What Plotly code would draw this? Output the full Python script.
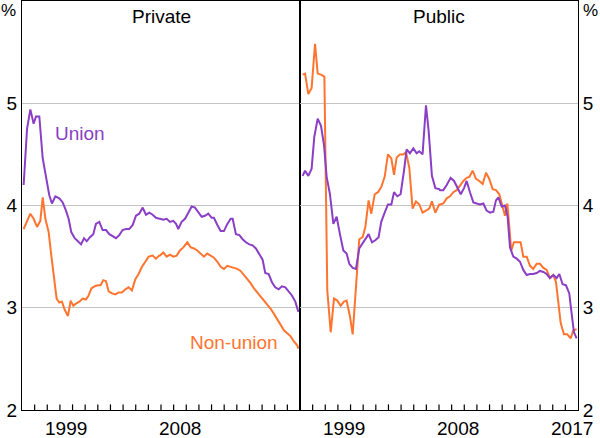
import plotly.graph_objects as go
from plotly.subplots import make_subplots

# ---------------- data ----------------
priv_union_years = [1996.13,1996.40,1996.66,1996.92,1997.11,1997.37,1997.64,1997.90,1998.16,1998.37,
                    1998.64,1998.95,1999.22,1999.48,1999.69,1999.90,2000.17,2000.43,2000.67,2000.91,
                    2001.12,2001.38,2001.64,2001.85,2002.12,2002.38,2002.65,2002.91,2003.17,2003.44,
                    2003.70,2003.96,2004.23,2004.49,2004.76,2005.02,2005.28,2005.55,2005.81,2006.07,
                    2006.34,2006.60,2006.87,
                    2006.92,2007.18,2007.45,2007.71,2007.97,2008.19,2008.37,2008.63,2008.90,2009.16,
                    2009.43,2009.69,2009.95,2010.22,2010.48,2010.74,2011.01,2011.19,2011.46,2011.72,
                    2011.98,2012.25,2012.51,2012.67,2012.93,2013.20,2013.46,2013.72,2013.99,2014.25,
                    2014.51,2014.78,2015.04,2015.25,2015.52,2015.78,2016.04,2016.31,2016.57,2016.84,
                    2017.10,2017.36,2017.63,2017.80,2017.87]
priv_union = [4.20,4.75,4.94,4.80,4.87,4.87,4.46,4.28,4.10,4.02,
              4.09,4.07,4.03,3.95,3.87,3.74,3.68,3.65,3.62,3.68,
              3.65,3.69,3.72,3.82,3.84,3.76,3.76,3.72,3.70,3.68,
              3.71,3.76,3.77,3.77,3.81,3.90,3.92,3.98,3.91,3.93,
              3.91,3.88,3.87,
              3.87,3.86,3.87,3.84,3.85,3.82,3.77,3.84,3.87,3.93,
              3.99,3.98,3.93,3.89,3.90,3.92,3.88,3.88,3.81,3.75,
              3.75,3.82,3.87,3.87,3.72,3.71,3.67,3.64,3.62,3.61,
              3.58,3.53,3.47,3.34,3.33,3.25,3.20,3.18,3.21,3.20,
              3.16,3.12,3.06,2.97,2.96]

priv_nonunion_years = [1996.13,1996.40,1996.66,1996.92,1997.19,1997.45,1997.64,1997.85,1998.11,1998.32,
                       1998.53,1998.74,1998.95,1999.16,1999.38,1999.64,1999.85,2000.06,2000.27,2000.54,
                       2000.80,2001.06,2001.27,2001.49,2001.75,2002.01,2002.22,2002.43,2002.65,2002.86,
                       2003.12,2003.38,2003.65,2003.91,2004.18,2004.44,2004.70,2004.97,2005.23,2005.49,
                       2005.76,2006.02,2006.34,2006.60,2006.87,
                       2006.92,2007.18,2007.45,2007.71,2007.97,2008.24,2008.50,2008.77,2009.08,2009.35,
                       2009.61,2009.87,2010.14,2010.40,2010.66,2010.93,2011.19,2011.46,2011.72,2011.98,
                       2012.25,2012.51,2012.77,2013.04,2013.30,2013.57,2013.83,2014.09,2014.36,2014.62,
                       2014.88,2015.15,2015.41,2015.68,2015.94,2016.20,2016.47,2016.73,2016.99,2017.26,
                       2017.52,2017.79,2017.87]
priv_nonunion = [3.77,3.84,3.92,3.87,3.79,3.85,4.08,3.87,3.74,3.51,
                 3.28,3.09,3.05,3.06,2.98,2.92,3.07,3.02,3.04,3.06,
                 3.09,3.08,3.12,3.19,3.21,3.22,3.22,3.27,3.26,3.16,
                 3.14,3.13,3.15,3.15,3.18,3.20,3.17,3.28,3.33,3.40,
                 3.45,3.50,3.51,3.48,3.51,
                 3.51,3.54,3.50,3.52,3.50,3.51,3.56,3.59,3.64,3.59,
                 3.58,3.56,3.53,3.50,3.53,3.51,3.49,3.45,3.40,3.38,
                 3.41,3.40,3.39,3.38,3.36,3.32,3.28,3.24,3.19,3.15,
                 3.11,3.07,3.04,2.99,2.94,2.89,2.83,2.78,2.75,2.72,
                 2.67,2.63,2.60]

pub_union_years = [1996.21,1996.40,1996.66,1996.92,1997.13,1997.40,1997.66,1997.90,1998.11,1998.37,
                   1998.64,1998.90,1999.16,1999.43,1999.69,1999.90,2000.17,2000.43,2000.69,2000.96,
                   2001.22,2001.43,2001.70,2001.96,2002.22,2002.43,2002.70,2002.96,2003.23,2003.44,
                   2003.70,2003.96,2004.23,2004.44,2004.70,2004.97,2005.23,2005.44,2005.70,2005.97,
                   2006.18,2006.44,2006.71,2007.02,
                   2007.08,2007.34,2007.61,2007.92,2008.19,2008.45,2008.72,2008.98,2009.19,2009.45,
                   2009.72,2009.98,2010.24,2010.51,2010.77,2011.04,2011.30,2011.51,2011.70,2011.96,
                   2012.22,2012.43,2012.62,2012.88,2013.15,2013.41,2013.67,2013.94,2014.20,2014.46,
                   2014.73,2014.99,2015.26,2015.52,2015.78,2016.05,2016.31,2016.52,2016.78,2017.05,
                   2017.31,2017.50,2017.68,2017.89]
pub_union = [4.29,4.34,4.29,4.36,4.67,4.85,4.78,4.59,4.28,4.11,
             3.82,3.89,3.72,3.56,3.53,3.43,3.39,3.38,3.58,3.63,
             3.68,3.72,3.64,3.66,3.69,3.84,3.93,4.01,4.01,4.13,
             4.09,4.11,4.34,4.55,4.51,4.56,4.51,4.53,4.50,4.98,
             4.73,4.29,4.17,4.16,
             4.15,4.15,4.20,4.27,4.24,4.18,4.11,4.17,4.24,4.13,
             4.03,4.02,4.01,4.02,3.95,3.93,3.94,4.05,4.08,3.99,
             4.00,3.89,3.59,3.50,3.48,3.45,3.37,3.32,3.33,3.33,
             3.34,3.36,3.35,3.33,3.29,3.32,3.29,3.33,3.23,3.22,
             3.14,2.94,2.76,2.70]

pub_nonunion_years = [1996.21,1996.40,1996.66,1996.92,1997.19,1997.40,1997.66,1997.93,1998.16,1998.43,
                      1998.69,1998.95,1999.22,1999.48,1999.69,1999.96,2000.17,2000.69,2000.96,2001.17,
                      2001.43,2001.64,2001.91,2002.17,2002.43,2002.70,2002.96,2003.23,2003.44,2003.65,
                      2003.91,2004.18,2004.39,2004.65,2004.91,2005.18,2005.44,2005.70,2005.97,2006.23,
                      2006.44,2006.71,2007.02,
                      2007.08,2007.34,2007.61,2007.87,2008.13,2008.40,2008.66,2008.93,2009.19,2009.40,
                      2009.66,2009.93,2010.19,2010.46,2010.72,2010.98,2011.25,2011.51,2011.77,2012.04,
                      2012.22,2012.41,2012.57,2012.72,2012.93,2013.20,2013.46,2013.67,2013.94,2014.20,
                      2014.46,2014.73,2014.99,2015.26,2015.52,2015.78,2016.05,2016.26,2016.44,2016.63,
                      2016.89,2017.15,2017.42,2017.63,2017.89]
pub_nonunion = [5.28,5.29,5.09,5.15,5.58,5.29,5.28,5.26,3.17,2.76,
                3.09,3.07,3.02,3.06,3.07,2.91,2.74,3.67,3.69,3.79,
                4.05,3.92,4.11,4.13,4.18,4.28,4.50,4.46,4.30,4.47,
                4.50,4.50,4.52,4.37,3.97,4.04,4.01,3.93,3.95,3.97,
                4.04,3.93,4.01,
                4.01,4.02,4.07,4.09,4.13,4.15,4.20,4.24,4.27,4.28,
                4.34,4.26,4.24,4.21,4.32,4.26,4.16,4.15,4.11,3.98,
                3.90,4.02,3.79,3.56,3.64,3.64,3.64,3.50,3.50,3.41,
                3.38,3.43,3.43,3.39,3.37,3.29,3.32,3.25,3.04,2.85,
                2.74,2.74,2.70,2.78,2.79]

panel_titles = ["Private", "Public"]
left_xlabels = ["1999", "2008"]
right_xlabels = ["1999", "2008", "2017"]
y_ticks = [2, 3, 4, 5]
year_ticks = list(range(1997, 2018))

# ---------------- style ----------------
PURPLE = "#8a3fc6"
ORANGE = "#ff7530"
FONT = "Arial, Liberation Sans, sans-serif"
FS = 19
Y_MIN, Y_MAX = 2, 6
TICK_LEN = 0.055  # tick length in y units (~5-6 px)

fig = make_subplots(rows=1, cols=2, horizontal_spacing=0)

# yearly tick marks pointing up from the bottom axis, built from year_ticks
tick_x, tick_y = [], []
for yv in year_ticks:
    tick_x += [yv, yv, None]
    tick_y += [Y_MIN, Y_MIN + TICK_LEN, None]
for c in (1, 2):
    fig.add_trace(go.Scatter(x=tick_x, y=tick_y, mode="lines", hoverinfo="skip",
                             line=dict(color="black", width=1.2), cliponaxis=False,
                             showlegend=False), 1, c)

fig.add_trace(go.Scatter(x=priv_union_years, y=priv_union, mode="lines",
                         line=dict(color=PURPLE, width=2), name="Union"), 1, 1)
fig.add_trace(go.Scatter(x=priv_nonunion_years, y=priv_nonunion, mode="lines",
                         line=dict(color=ORANGE, width=2), name="Non-union"), 1, 1)
fig.add_trace(go.Scatter(x=pub_nonunion_years, y=pub_nonunion, mode="lines",
                         line=dict(color=ORANGE, width=2), name="Non-union"), 1, 2)
fig.add_trace(go.Scatter(x=pub_union_years, y=pub_union, mode="lines",
                         line=dict(color=PURPLE, width=2), name="Union"), 1, 2)

xcommon = dict(range=[1996, 2018], showline=True, linecolor="black", linewidth=1,
               mirror=True, showgrid=False, zeroline=False,
               tickmode="array", tickvals=year_ticks, ticks="", showticklabels=False)
fig.update_xaxes(**xcommon, row=1, col=1)
fig.update_xaxes(**xcommon, row=1, col=2)

ycommon = dict(range=[Y_MIN, Y_MAX], tickmode="array", tickvals=y_ticks,
               ticktext=[str(v) for v in y_ticks],
               showline=True, linecolor="black", linewidth=1, mirror=True,
               showgrid=True, gridcolor="#c4c4c4", gridwidth=1, zeroline=False,
               ticks="", tickfont=dict(family=FONT, size=FS, color="black"))
fig.update_yaxes(**ycommon, side="left", row=1, col=1)
fig.update_yaxes(**ycommon, side="right", row=1, col=2)

annots = []
for xr, labels in (("x", left_xlabels), ("x2", right_xlabels)):
    for lab in labels:
        annots.append(dict(text=lab, xref=xr, yref="paper", x=int(lab) + 0.5, y=0,
                           yshift=-18, xanchor="center", yanchor="middle",
                           showarrow=False,
                           font=dict(family=FONT, size=FS, color="black")))
annots += [
    dict(text=panel_titles[0], xref="x domain", yref="y domain", x=0.5, y=0.962,
         xanchor="center", yanchor="middle",
         showarrow=False, font=dict(family=FONT, size=FS, color="black")),
    dict(text=panel_titles[1], xref="x2 domain", yref="y2 domain", x=0.5, y=0.962,
         xanchor="center", yanchor="middle",
         showarrow=False, font=dict(family=FONT, size=FS, color="black")),
    dict(text="Union", xref="x", yref="y", x=2000.6, y=4.70, showarrow=False,
         xanchor="center", yanchor="middle",
         font=dict(family=FONT, size=FS, color=PURPLE)),
    dict(text="Non-union", xref="x", yref="y", x=2012.75, y=2.66, showarrow=False,
         xanchor="center", yanchor="middle",
         font=dict(family=FONT, size=FS, color=ORANGE)),
    dict(text="%", xref="paper", yref="paper", x=-0.0234, y=0.976, showarrow=False,
         xanchor="center", yanchor="middle",
         font=dict(family=FONT, size=FS - 2, color="black")),
    dict(text="%", xref="paper", yref="paper", x=1.0216, y=0.976, showarrow=False,
         xanchor="center", yanchor="middle",
         font=dict(family=FONT, size=FS - 2, color="black")),
]
fig.update_layout(width=600, height=438, margin=dict(l=22, r=22, t=1, b=28),
                  paper_bgcolor="white", plot_bgcolor="white", showlegend=False,
                  annotations=annots, font=dict(family=FONT))

fig.write_html("out.html", config={"displayModeBar": False},
               post_script="document.body.style.margin='0';document.body.style.overflow='hidden';")
